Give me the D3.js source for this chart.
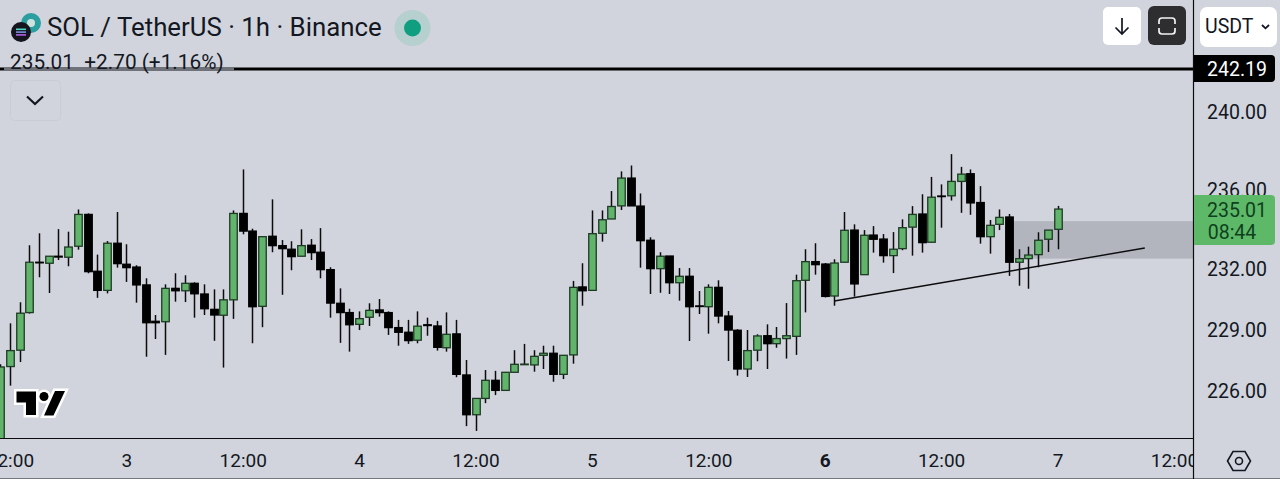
<!DOCTYPE html>
<html><head><meta charset="utf-8">
<script src="https://cdn.jsdelivr.net/npm/d3@7"></script>
<style>
html,body{margin:0;padding:0;background:#d1d4dc;overflow:hidden}
svg{display:block}
text{font-family:Roboto,sans-serif;fill:#131722}
</style></head><body>
<svg id="c" width="1280" height="479"></svg>
<script>
const opens=[223.38,227.19,227.99,229.84,232.34,232.29,232.64,232.59,233.14,234.74,
231.89,230.94,233.29,232.24,232.10,231.21,229.41,229.39,231.04,230.92,
231.29,230.76,230.00,229.71,230.47,234.79,233.90,230.15,233.64,233.17,
232.99,232.64,233.19,232.84,231.97,230.30,229.84,229.26,229.61,229.97,
229.84,229.10,228.87,228.48,229.24,229.18,228.11,228.79,226.78,224.85,
225.64,226.52,226.03,226.91,227.29,227.27,227.74,227.84,226.81,227.76,
231.11,230.94,233.79,234.51,235.17,236.58,235.16,233.44,232.02,232.65,
231.32,231.64,230.17,230.13,231.09,229.67,228.97,227.07,227.99,228.70,
228.31,228.56,228.67,231.44,232.37,232.25,230.66,232.34,233.95,231.72,
233.70,233.50,232.67,233.02,234.10,234.76,233.34,235.67,235.68,236.41,
236.80,235.34,233.62,234.24,234.61,232.34,232.52,232.72,233.49,233.99];
const highs=[227.30,229.31,230.35,233.19,233.79,232.64,234.00,233.87,234.99,234.79,
232.72,233.40,234.86,233.24,232.19,231.54,229.72,231.24,231.79,231.69,
231.34,231.24,230.99,230.99,234.94,237.02,234.02,233.62,235.50,233.45,
233.39,233.99,233.50,234.05,232.09,231.04,230.03,229.90,230.30,230.51,
229.90,229.48,229.48,229.90,229.59,229.43,229.85,229.48,227.51,225.64,
227.02,226.98,226.91,227.99,228.30,227.99,228.21,228.21,227.74,231.41,
232.29,234.94,234.94,235.92,236.92,237.22,235.80,233.59,232.84,232.65,
232.05,232.05,230.91,231.24,231.44,229.92,229.02,228.98,228.77,229.26,
229.13,230.31,231.72,232.99,233.29,232.30,232.49,234.86,234.24,233.95,
234.15,233.75,233.85,234.49,235.16,235.76,236.64,236.26,237.80,237.15,
237.02,236.17,234.46,234.99,234.76,232.99,233.12,233.84,233.95,235.17];
const lows=[223.14,226.26,227.41,229.79,231.59,230.81,232.45,232.14,232.97,231.79,
230.57,230.79,232.07,231.36,230.33,227.67,228.54,227.76,230.38,230.36,
229.59,229.72,228.45,227.14,229.53,233.74,228.33,229.12,232.84,230.72,
231.94,232.64,232.45,231.54,229.59,228.35,227.92,228.98,229.18,229.64,
228.74,228.21,228.30,228.33,228.70,227.97,227.92,226.67,224.30,224.07,
225.41,225.80,226.03,226.91,227.27,226.94,227.07,226.45,226.58,227.33,
230.18,230.94,233.37,234.51,234.96,235.17,232.07,230.76,230.82,230.76,
230.43,228.44,229.77,228.80,229.31,227.46,226.75,226.68,227.45,227.07,
228.11,227.58,227.76,229.85,231.72,230.59,230.18,232.34,230.63,231.72,
232.82,232.32,231.80,232.94,232.67,232.82,233.34,234.07,235.44,234.82,
234.72,233.27,232.77,233.95,231.66,231.17,231.02,232.09,232.85,232.99];
const closes=[227.17,227.97,229.81,232.34,232.32,232.64,232.60,233.10,234.74,231.87,
230.94,233.29,232.27,232.07,231.21,229.34,229.34,231.04,230.92,231.29,
230.77,230.03,229.72,230.47,234.79,233.90,230.13,233.62,233.17,233.02,
232.62,233.17,232.82,231.97,230.31,229.84,229.24,229.54,229.95,229.84,
229.10,228.87,228.46,229.17,229.20,228.13,228.77,226.81,224.85,225.64,
226.52,226.03,226.91,227.30,227.31,227.69,227.84,226.81,227.74,231.09,
230.92,233.77,234.47,235.14,236.58,235.17,233.42,232.02,232.64,231.32,
231.64,230.13,230.15,231.09,229.67,228.98,227.07,227.97,228.69,228.31,
228.56,228.70,231.42,232.37,232.22,230.64,232.30,233.94,231.26,233.69,
233.49,232.67,232.99,234.07,234.74,233.32,235.61,235.65,236.41,236.78,
235.32,233.62,234.19,234.59,232.34,232.52,232.70,233.44,233.95,235.01];
const lastBarTime=Date.UTC(2025,9,7,0);
const priceTicks=[240,236,232,229,226];
const priceAnchors=[226,242.19];
const lastPrice=235.01, highLine=242.19;
const countdown="08:44";
const zoneTop=234.40, zoneBottom=232.52, zoneStartBar=104;
const trendStartBar=86, trendEndBar=118, trendStartPrice=230.41, trendEndPrice=233.05;
const titleText="SOL / TetherUS · 1h · Binance";
const legendText="235.01  +2.70 (+1.16%)";
const unitLabel="USDT";
const boldDay=6;

const C={bg:"#d1d4dc",green:"#62b36c",edge:"#1e3a24",ink:"#000"};
const W=1193,H=438;
const svg=d3.select("#c");
const barTime=i=>new Date(d3.utcHour.offset(new Date(lastBarTime),i-(opens.length-1)));
const x=d3.scaleUtc().domain([barTime(0),barTime(opens.length-1)]).range([0.2,1057.5]);
const y=d3.scaleLog().domain(priceAnchors).range([391,69]);
const bars=d3.range(opens.length).map(i=>({t:barTime(i),o:opens[i],h:highs[i],l:lows[i],c:closes[i]}));

svg.append("rect").attr("width",1280).attr("height",479).attr("fill",C.bg);
const defs=svg.append("defs");
defs.append("clipPath").attr("id","plot").append("rect").attr("width",W).attr("height",H);
defs.append("clipPath").attr("id","timeclip").append("rect").attr("width",W).attr("y",H).attr("height",41);

const plot=svg.append("g").attr("clip-path","url(#plot)");
// zone
plot.append("rect").attr("x",x(barTime(zoneStartBar))).attr("y",y(zoneTop))
 .attr("width",W-x(barTime(zoneStartBar))).attr("height",y(zoneBottom)-y(zoneTop)).attr("fill","#b2b5be");
// candles
const g=plot.selectAll("g.k").data(bars).join("g").attr("class","k");
g.append("line").attr("x1",d=>Math.round(x(d.t))+.5).attr("x2",d=>Math.round(x(d.t))+.5)
 .attr("y1",d=>y(d.h)).attr("y2",d=>y(d.l)).attr("stroke","#0c0c0e").attr("stroke-width",1.5);
g.append("rect").attr("x",d=>Math.round(x(d.t))-3.25).attr("width",7.5)
 .attr("y",d=>y(Math.max(d.o,d.c)))
 .attr("height",d=>Math.max(0.6,Math.abs(y(d.o)-y(d.c))))
 .attr("fill",d=>d.c>=d.o?C.green:"#000")
 .attr("stroke",d=>d.c>=d.o?C.edge:"#000").attr("stroke-width",1.3);
// trend line
plot.append("line").attr("x1",x(barTime(trendStartBar))).attr("y1",y(trendStartPrice))
 .attr("x2",x(barTime(trendEndBar))).attr("y2",y(trendEndPrice)).attr("stroke","#0c0c0e").attr("stroke-width",1.4);
// high line
svg.append("line").attr("x1",0).attr("x2",W).attr("y1",y(highLine)).attr("y2",y(highLine)).attr("stroke","#000").attr("stroke-width",3);
svg.append("rect").attr("x",4).attr("y",y(highLine)-2).attr("width",230).attr("height",4).attr("fill","#6f7278");

// frame
svg.append("line").attr("x1",0).attr("x2",1280).attr("y1",478.5).attr("y2",478.5).attr("stroke","#75787f");
svg.append("line").attr("x1",0).attr("x2",W).attr("y1",438.5).attr("y2",438.5).attr("stroke","#0c0c0e").attr("stroke-width",1.2);

// time axis
const timeTicks=d3.utcHour.range(barTime(0),d3.utcHour.offset(new Date(lastBarTime),13),1).filter(d=>d.getUTCHours()%12===0);
const xAxis=d3.axisBottom(x).tickValues(timeTicks).tickSize(0)
 .tickFormat(d=>d.getUTCHours()===0?String(d.getUTCDate()):"12:00");
const xg=svg.append("g").attr("clip-path","url(#timeclip)").append("g").attr("transform","translate(0,438)").call(xAxis);
xg.select(".domain").remove();
xg.selectAll("text").attr("y",29).attr("dy",0).style("font-size","19px").style("fill","#131722")
 .style("font-family","Roboto,sans-serif")
 .style("font-weight",d=>d.getUTCHours()===0&&d.getUTCDate()===boldDay?700:400);

// price axis
const yAxis=d3.axisRight(y).tickValues(priceTicks).tickSize(0).tickFormat(d=>d.toFixed(2));
const yg=svg.append("g").attr("transform","translate(1193,0)").call(yAxis);
yg.select(".domain").remove();
yg.selectAll("text").attr("x",44).attr("dy","0.35em").attr("text-anchor","middle")
 .style("font-size","19.5px").style("font-family","Roboto,sans-serif").style("fill","#131722");
svg.append("line").attr("x1",1193.5).attr("x2",1193.5).attr("y1",0).attr("y2",479).attr("stroke","#0c0c0e").attr("stroke-width",1.2);

const rightTag=(y0,h,fill)=>svg.append("path")
 .attr("d",`M1194,${y0}H1271a4,4 0 0 1 4,4V${y0+h-4}a4,4 0 0 1 -4,4H1194Z`).attr("fill",fill);
rightTag(y(highLine)-14,27,"#000");
svg.append("text").attr("x",1237).attr("y",y(highLine)).attr("dy","0.35em").attr("text-anchor","middle")
 .style("font-size","19.5px").style("fill","#fff").text(highLine.toFixed(2));
rightTag(195,50,"#5db968");
svg.append("text").attr("x",1237).attr("y",y(lastPrice)+1).attr("dy","0.35em").attr("text-anchor","middle")
 .style("font-size","19.5px").style("fill","#0f3f1d").text(lastPrice.toFixed(2));
svg.append("text").attr("x",1232).attr("y",232).attr("dy","0.35em").attr("text-anchor","middle")
 .style("font-size","19.5px").style("fill","#0f3f1d").text(countdown);

// settings hexagon
svg.append("path").attr("d","M1227.5,461 l5.5,-9.5 h12 l5.5,9.5 l-5.5,9.5 h-12 Z").attr("fill","none").attr("stroke","#131722").attr("stroke-width",1.6);
svg.append("circle").attr("cx",1239).attr("cy",461).attr("r",3.5).attr("fill","none").attr("stroke","#131722").attr("stroke-width",1.6);

// title / legend
svg.append("text").attr("x",47).attr("y",36).style("font-size","25.8px").text(titleText);
svg.append("text").attr("x",10).attr("y",69).attr("xml:space","preserve").style("white-space","pre").style("font-size","20.8px").text(legendText);
svg.append("circle").attr("cx",31).attr("cy",23).attr("r",10).attr("fill","#2b9ea0");
svg.append("circle").attr("cx",31).attr("cy",23).attr("r",4).attr("fill","#cfe3de");
svg.append("circle").attr("cx",21).attr("cy",32).attr("r",10).attr("fill","#14151e");
[[-5,-3.5],[-5,-.7],[-5,2.1]].forEach((d,i)=>svg.append("rect").attr("x",21+d[0]).attr("y",32+d[1]).attr("width",10).attr("height",1.6).attr("fill",["#4fd8c4","#7a8ee0","#b060e8"][i]));
svg.append("circle").attr("cx",412.5).attr("cy",28).attr("r",18).attr("fill","#b6d0cf");
svg.append("circle").attr("cx",412.5).attr("cy",28).attr("r",8.5).attr("fill","#109e80");

// chevron button
svg.append("rect").attr("x",10.5).attr("y",80.5).attr("width",50).attr("height",40).attr("rx",4).attr("fill","none").attr("stroke","#c9ccd4");
svg.append("path").attr("d","M27,96.5 l8,7.5 l8,-7.5").attr("fill","none").attr("stroke","#131722").attr("stroke-width",2.2);

// buttons
svg.append("rect").attr("x",1103).attr("y",7).attr("width",38).attr("height",38).attr("rx",5).attr("fill","#fff");
svg.append("path").attr("d","M1122,18 V34 M1115.5,27.5 L1122,34 L1128.5,27.5").attr("fill","none").attr("stroke","#131722").attr("stroke-width",1.7);
svg.append("rect").attr("x",1148).attr("y",6).attr("width",38).attr("height",39).attr("rx",6).attr("fill","#2e2e30");
svg.append("path").attr("d","M1159,24 V21 a3,3 0 0 1 3,-3 H1172 a3,3 0 0 1 3,3 V24 M1159,28 V31 a3,3 0 0 0 3,3 H1172 a3,3 0 0 0 3,-3 V28")
 .attr("fill","none").attr("stroke","#f2f2f4").attr("stroke-width",1.7);
svg.append("rect").attr("x",1200).attr("y",7).attr("width",77).attr("height",40).attr("rx",7).attr("fill","#fff");
svg.append("text").attr("x",1205).attr("y",33).style("font-size","19.5px").text(unitLabel);
svg.append("path").attr("d","M1262,25 l3.5,3.3 l3.5,-3.3").attr("fill","none").attr("stroke","#131722").attr("stroke-width",1.8);

// watermark
const tv=svg.append("g");
tv.append("path").attr("d","M13,388 H70 L57,419 H13 Z").attr("fill","#fff").attr("opacity",0);
const tvMarks=tv.append("g").attr("fill","#000").attr("stroke","#fff").attr("stroke-width",5).style("paint-order","stroke").attr("stroke-linejoin","miter");
tvMarks.append("path").attr("d","M16.5,391.5 H36 V415 H26 V402.5 H16.5 Z");
tvMarks.append("circle").attr("cx",44).attr("cy",396.5).attr("r",4.5);
tvMarks.append("path").attr("d","M55,391 H65 L53.5,415.5 H44 Z");
</script>
</body></html>
